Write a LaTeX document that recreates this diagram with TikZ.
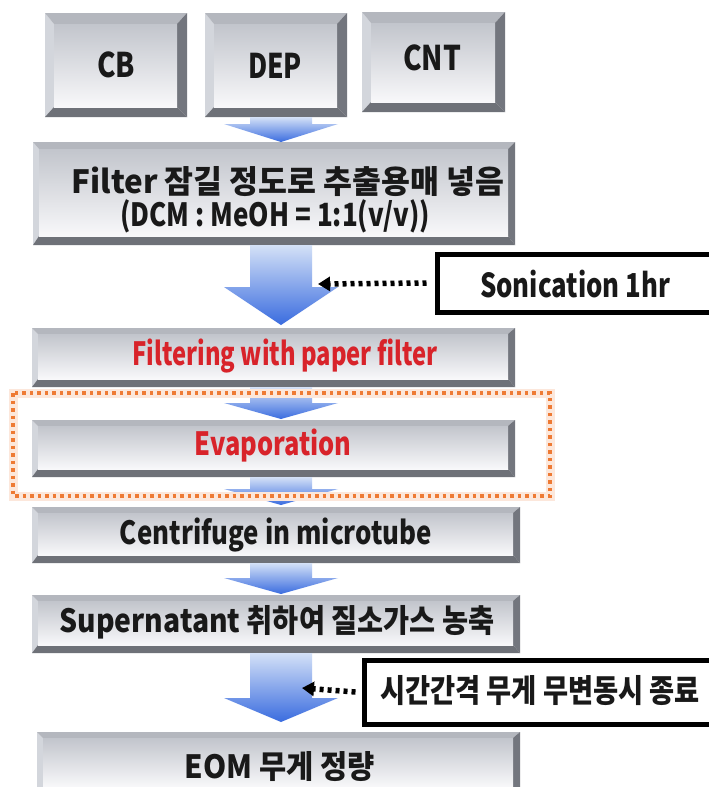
\documentclass[tikz,border=0pt]{standalone}
\usepackage{fontspec}
\usepackage{graphicx}
\setmainfont{Noto Sans CJK KR}
\usetikzlibrary{calc,arrows.meta}
\definecolor{bevL}{HTML}{D3D6DC}
\definecolor{bevT}{HTML}{B4B7BE}
\definecolor{bevR}{HTML}{73767E}
\definecolor{bevB}{HTML}{6E7178}
\definecolor{faceT}{HTML}{C2C5CC}
\definecolor{faceB}{HTML}{F8F8FA}
\definecolor{arrT}{HTML}{D4E1F7}
\definecolor{arrB}{HTML}{3A6CDF}
\definecolor{redtxt}{HTML}{D8232A}
\definecolor{orangedot}{HTML}{EE7A34}
\newcommand\fw[2]{\resizebox{#1}{\height}{#2}}
% name x1 y1 x2 y2 top bottom left right
\newcommand\bevbox[9]{%
 \fill[bevL] (#2,#3) -- (#2+#8,#3+#6) -- (#2+#8,#5-#7) -- (#2,#5) -- cycle;
 \fill[bevT] (#2,#3) -- (#4,#3) -- (#4-#9,#3+#6) -- (#2+#8,#3+#6) -- cycle;
 \fill[bevR] (#4,#3) -- (#4,#5) -- (#4-#9,#5-#7) -- (#4-#9,#3+#6) -- cycle;
 \fill[bevB] (#2,#5) -- (#4,#5) -- (#4-#9,#5-#7) -- (#2+#8,#5-#7) -- cycle;
 \shade[faceshade] (#2+#8,#3+#6) rectangle (#4-#9,#5-#7);
 \node[boxgeom,minimum width={#4-#2},minimum height={#5-#3}] (#1) at ({(#2+#4)/2},{(#3+#5)/2}) {};
}
% top node, bottom node, head length, tip gap
\newcommand\barrow[4]{%
 \path (ax |- #1.south) coordinate (at) (ax |- #2.north) coordinate (ab);
 \shade[arrowshade] ([xshift=-31pt]at) -- ([xshift=31pt]at)
   -- ([xshift=31pt,yshift=#3pt+#4pt]ab) -- ([xshift=57pt,yshift=#3pt+#4pt]ab)
   -- ([yshift=#4pt]ab) -- ([xshift=-57pt,yshift=#3pt+#4pt]ab)
   -- ([xshift=-31pt,yshift=#3pt+#4pt]ab) -- cycle;
}
\tikzset{
 faceshade/.style={top color=faceT,bottom color=faceB},
 boxgeom/.style={inner sep=0pt,outer sep=0pt},
 arrowshade/.style={top color=arrT,bottom color=arrB},
 lbl/.style={inner sep=0pt,font=\bfseries\fontsize{32}{34}\selectfont,text=black!90},
 redlbl/.style={lbl,text=redtxt},
 notebox/.style={draw=black,line width=5pt,fill=white,inner sep=0pt},
 dotconn/.style={draw=black,line width=5.5pt,dash pattern=on 4pt off 4pt,
   -{Triangle[length=12pt,width=14pt]}},
}
\begin{document}
\begin{tikzpicture}[x=1pt,y=-1pt]
\useasboundingbox (0,0) rectangle (709,787);
\clip (0,0) rectangle (709,787);
\fill[white] (0,0) rectangle (709,787);
\coordinate (ax) at (281,0);
% top boxes
\bevbox{cb}{45}{13}{187}{117}{11}{10}{9}{10}
\bevbox{dep}{205}{13}{347}{117}{11}{10}{9}{10}
\bevbox{cnt}{362}{12}{505}{112}{11}{10}{9}{10}
\node[lbl,font=\bfseries\fontsize{34}{36}\selectfont] (cbt) at (116,65) {\fw{38pt}{CB}};
\node[lbl,font=\bfseries\fontsize{34}{36}\selectfont] (dept) at (275,66) {\fw{54pt}{DEP}};
\node[lbl,font=\bfseries\fontsize{34}{36}\selectfont] (cntt) at (432,58) {\fw{58pt}{CNT}};
% process boxes
\bevbox{filt}{33}{142}{515}{245}{7}{9}{6}{7}
\node[lbl] (filt1) at (288,182) {\fw{433pt}{Filter 잠길 정도로 추출용매 넣음}};
\node[lbl] (filt2) at (275,216) {\fw{310pt}{(DCM : MeOH = 1:1(v/v))}};
\bevbox{fpap}{32}{328}{515}{387}{6}{8}{6}{7}
\node[redlbl] (fpapt) at (285,356) {\fw{305pt}{Filtering with paper filter}};
\bevbox{evap}{32}{420}{515}{477}{6}{8}{6}{7}
\node[redlbl] (evapt) at (273,446) {\fw{157pt}{Evaporation}};
\bevbox{cent}{32}{507}{520}{563}{6}{8}{6}{7}
\node[lbl] (centt) at (276,535) {\fw{312pt}{Centrifuge in microtube}};
\bevbox{sup}{32}{595}{520}{653}{6}{8}{6}{7}
\node[lbl] (supt) at (277,622) {\fw{435pt}{Supernatant 취하여 질소가스 농축}};
\bevbox{eom}{37}{732}{520}{795}{6}{8}{6}{7}
\node[lbl] (eomt) at (280,767) {\fw{190pt}{EOM 무게 정량}};
% block arrows
\barrow{dep}{filt}{18}{0}
\barrow{filt}{fpap}{38}{3}
\barrow{fpap}{evap}{16}{1}
\barrow{evap}{cent}{16}{2}
\barrow{cent}{sup}{16}{1}
\barrow{sup}{eom}{24}{10}
% orange dotted frame
\draw[orangedot!18,line width=9pt] (13,393) rectangle (550,496);
\draw[orangedot,line width=3.5pt,dash pattern=on 3.5pt off 4pt] (13,393) rectangle (550,496);
% side notes
\node[notebox,minimum width=280pt,minimum height=58pt] (son) at (577,283) {};
\node[lbl,font=\bfseries\fontsize{33}{35}\selectfont] (sont) at (575,284) {\fw{190pt}{Sonication 1hr}};
\node[notebox,minimum width=360pt,minimum height=64pt] (stop) at (544,692) {};
\node[lbl,font=\bfseries\fontsize{32}{34}\selectfont] (stopt) at (540,691) {\fw{320pt}{시간간격 무게 무변동시 종료}};
\coordinate (sonend) at (318,284);
\coordinate (stopend) at (302,688);
\draw[dotconn] (son.west) ++(-8pt,0) -- (sonend);
\draw[dotconn] (stop.west) ++(-6pt,0) -- (stopend);
\end{tikzpicture}
\end{document}
